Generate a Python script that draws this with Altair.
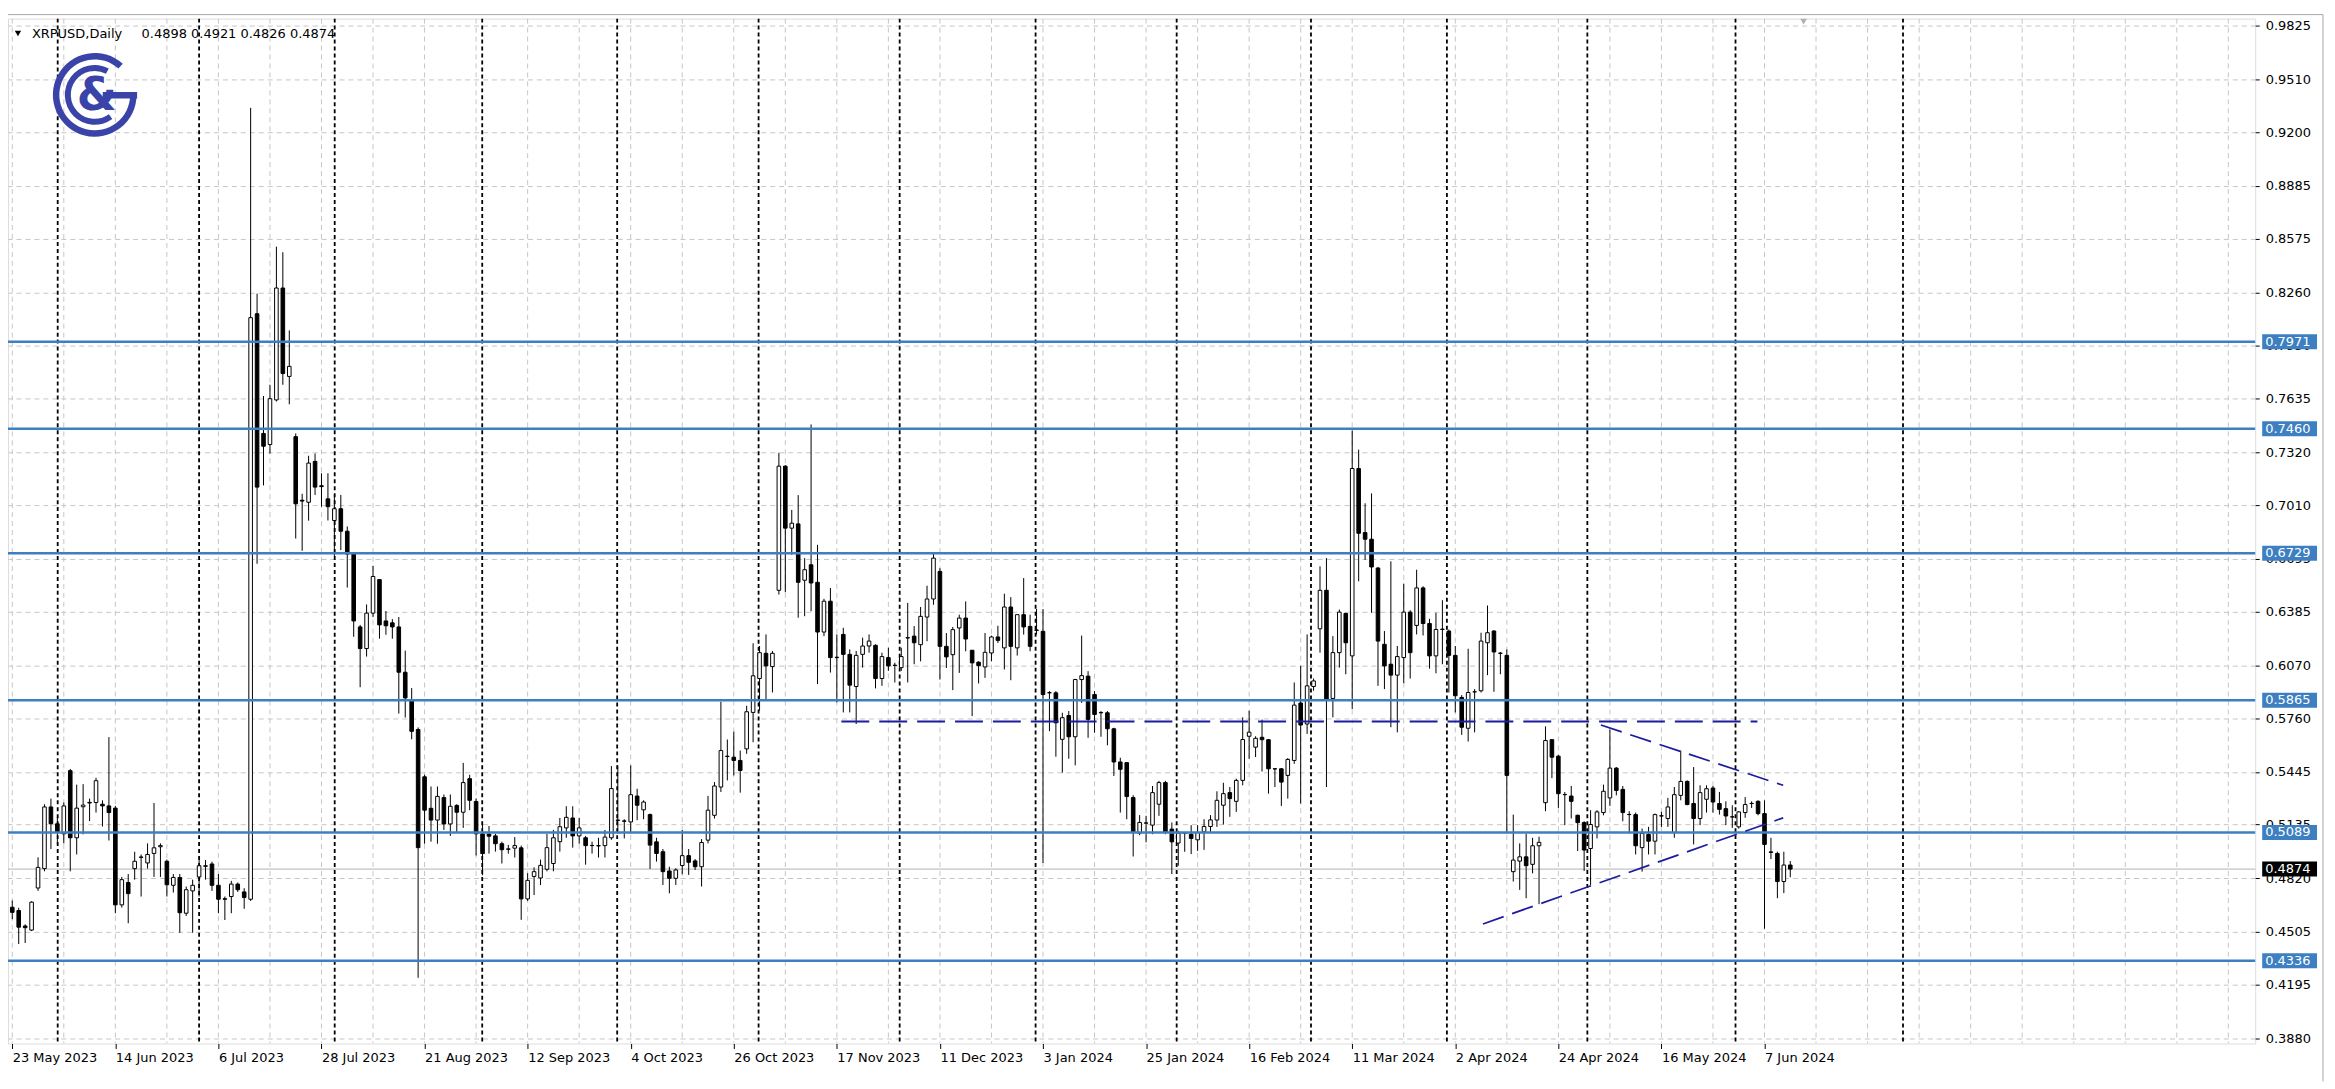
import altair as alt
import pandas as pd

# ---------------- data ----------------
OPEN = [
    .4650, .4631, .4540, .4516, .4763, .4877, .5239, .5140, .5081, .5452,
    .5058, .5240, .5262, .5265, .5255, .5245, .5232, .4664, .4795, .4877,
    .4945, .4910, .4966, .5005, .4920, .4779, .4825, .4615, .4746, .4828,
    .4890, .4904, .4779, .4700, .4713, .4786, .4740, .4697, .8135, .7432,
    .7367, .7629, .8286, .7767, .7413, .7040, .7028, .7268, .7125, .7048,
    .6921, .6990, .6858, .6724, .6296, .6169, .6377, .6574, .6331, .6320,
    .6296, .6030, .5868, .5694, .5416, .5231, .5162, .5294, .5139, .5248,
    .5208, .5405, .5271, .5081, .5080, .5069, .5023, .4990, .4997, .4999,
    .4699, .4831, .4822, .4873, .4907, .5035, .5116, .5174, .5069, .5058,
    .5013, .5010, .5012, .5058, .5162, .5157, .5151, .5303, .5222, .5194,
    .5034, .4976, .4863, .4820, .4895, .4953, .4922, .4888, .5044, .5190,
    .5356, .5535, .5531, .5512, .5580, .5794, .5993, .6141, .6063, .6511,
    .7240, .6876, .6901, .6570, .6661, .6558, .6266, .6447, .6118, .6252,
    .6135, .5946, .6135, .6184, .6188, .5993, .6116, .6070, .6057, .6231,
    .6242, .6192, .6354, .6460, .6622, .6182, .6133, .6290, .6348, .6159,
    .6089, .6061, .6143, .6237, .6173, .6413, .6173, .6368, .6299, .6278,
    .6270, .5910, .5909, .5636, .5776, .5651, .5987, .6007, .5899, .5793,
    .5792, .5698, .5503, .5499, .5294, .5085, .5145, .5132, .5255, .5382,
    .5109, .5027, .5086, .5079, .5046, .5093, .5124, .5162, .5249, .5323,
    .5272, .5395, .5654, .5590, .5648, .5634, .5463, .5463, .5424, .5512,
    .5849, .5726, .5946, .6285, .6511, .5876, .6145, .6375, .6126, .7226,
    .6850, .6811, .6642, .6194, .6077, .6013, .6116, .6383, .6305, .6525,
    .6316, .6126, .6283, .6272, .6129, .5882, .5701, .5915, .5921, .6203,
    .6272, .6142, .6129, .4859, .4921, .4946, .4902, .5011, .5264, .5634,
    .5537, .5312, .5303, .5190, .5147, .4995, .5122, .5206, .5292, .5467,
    .5342, .5195, .5194, .5000, .5077, .5038, .5187, .5171, .5089, .5307,
    .5389, .5259, .5171, .5284, .5350, .5259, .5229, .5181, .5122, .5206,
    .5260, .5272, .5200, .4975, .4966, .4801, .4898,
]
HIGH = [
    .4690, .4647, .4550, .4685, .4943, .5255, .5288, .5180, .5265, .5462,
    .5370, .5373, .5288, .5410, .5278, .5649, .5245, .4828, .4845, .4976,
    .4960, .5025, .5262, .5025, .4930, .4845, .4845, .4772, .4812, .4927,
    .4927, .4917, .4845, .4713, .4805, .4795, .4762, .9344, .8253, .7652,
    .7718, .8529, .8496, .8037, .7432, .7078, .7301, .7314, .7198, .7198,
    .7071, .7071, .6886, .6736, .6308, .6428, .6655, .6574, .6389, .6342,
    .6354, .6157, .5937, .5706, .5428, .5359, .5359, .5312, .5312, .5255,
    .5498, .5428, .5289, .5139, .5127, .5081, .5035, .5016, .5062, .5012,
    .4850, .4884, .4930, .5081, .5104, .5174, .5243, .5243, .5174, .5069,
    .5035, .5058, .5104, .5479, .5483, .5167, .5483, .5346, .5278, .5200,
    .5058, .4992, .4888, .4879, .5103, .4992, .4933, .5050, .5304, .5385,
    .5857, .5635, .5681, .5570, .5833, .6200, .6184, .6252, .6155, .7318,
    .7246, .6983, .7070, .6700, .7485, .6778, .6461, .6525, .6252, .6291,
    .6164, .6155, .6233, .6252, .6194, .6145, .6174, .6086, .6174, .6437,
    .6301, .6413, .6538, .6729, .6641, .6260, .6296, .6368, .6446, .6159,
    .6094, .6260, .6245, .6303, .6491, .6471, .6368, .6583, .6368, .6401,
    .6401, .5919, .5919, .5792, .5802, .5991, .6245, .6036, .5919, .5802,
    .5802, .5704, .5528, .5503, .5308, .5191, .5187, .5362, .5392, .5392,
    .5148, .5099, .5089, .5132, .5132, .5167, .5191, .5331, .5381, .5356,
    .5405, .5765, .5804, .5654, .5752, .5638, .5467, .5467, .5526, .5970,
    .6067, .6252, .5993, .6652, .6700, .6242, .6398, .6379, .7450, .7337,
    .7022, .7080, .6648, .6272, .6681, .6184, .6550, .6394, .6632, .6535,
    .6344, .6379, .6453, .6281, .6184, .5896, .6168, .5931, .6262, .6422,
    .6277, .6149, .6164, .5194, .5025, .5083, .5058, .5064, .5712, .5638,
    .5545, .5327, .5362, .5194, .5155, .5220, .5220, .5370, .5693, .5473,
    .5362, .5214, .5206, .5112, .5122, .5200, .5210, .5292, .5356, .5570,
    .5395, .5473, .5366, .5366, .5362, .5327, .5272, .5249, .5214, .5297,
    .5272, .5278, .5278, .5058, .4976, .4976, .4921,
]
LOW = [
    .4580, .4434, .4440, .4510, .4746, .4861, .4992, .5020, .5025, .4861,
    .4960, .5078, .5156, .5206, .5124, .5042, .4615, .4648, .4556, .4812,
    .4713, .4877, .4828, .4828, .4713, .4736, .4500, .4599, .4500, .4713,
    .4812, .4746, .4615, .4575, .4615, .4740, .4641, .4687, .6667, .7127,
    .7314, .7620, .7718, .7603, .6815, .6743, .6920, .7071, .7002, .6921,
    .6712, .6747, .6527, .6238, .5942, .6122, .6354, .6227, .6250, .6227,
    .5787, .5764, .5636, .4236, .5023, .5035, .5023, .5104, .5069, .5092,
    .5116, .5220, .4954, .4838, .4965, .4977, .4907, .4965, .4942, .4576,
    .4687, .4722, .4780, .4861, .4861, .4977, .5058, .5000, .5023, .4900,
    .4965, .4942, .4942, .5046, .5083, .5054, .5083, .5161, .5167, .4875,
    .4918, .4781, .4732, .4781, .4844, .4840, .4869, .4772, .5025, .5171,
    .5327, .5395, .5424, .5323, .5551, .5619, .5804, .5863, .5911, .6486,
    .6500, .6720, .6350, .6359, .6388, .5960, .6242, .6028, .5853, .5794,
    .5794, .5726, .6057, .6145, .5935, .5950, .6038, .5970, .6038, .5970,
    .6077, .6094, .6212, .6426, .5987, .6055, .5925, .6026, .6153, .5772,
    .5964, .5997, .6094, .6202, .6046, .5983, .6128, .6251, .6153, .6251,
    .4910, .5684, .5534, .5440, .5522, .5483, .5850, .5645, .5675, .5651,
    .5601, .5421, .5206, .5167, .4948, .5073, .5031, .5079, .5187, .5079,
    .4845, .4894, .4976, .4962, .4981, .4987, .5089, .5122, .5136, .5181,
    .5210, .5366, .5522, .5532, .5447, .5317, .5356, .5245, .5288, .5492,
    .5259, .5668, .5921, .6145, .5356, .5765, .6057, .6018, .5814, .6564,
    .6690, .6379, .5950, .5931, .5707, .5677, .5966, .5993, .6252, .6246,
    .6051, .6024, .6077, .5911, .5794, .5662, .5623, .5677, .5911, .6013,
    .5915, .6018, .5083, .4801, .4752, .4703, .4849, .4668, .5214, .5408,
    .5233, .5132, .5171, .4980, .4863, .4781, .5054, .5190, .5245, .5307,
    .5155, .5083, .4960, .4859, .4960, .4960, .5122, .5122, .5058, .5278,
    .5249, .5019, .5132, .5206, .5206, .5194, .5132, .5116, .5112, .5175,
    .5233, .5190, .4524, .4933, .4703, .4733, .4826,
]
CLOSE = [
    .4620, .4533, .4530, .4680, .4884, .5239, .5140, .5091, .5245, .5058,
    .5232, .5250, .5266, .5393, .5245, .5206, .4664, .4812, .4730, .4920,
    .4943, .4960, .4999, .5012, .4782, .4825, .4618, .4753, .4779, .4894,
    .4894, .4779, .4697, .4697, .4786, .4753, .4707, .8112, .7117, .7357,
    .7636, .8286, .7784, .7826, .7019, .7035, .7258, .7117, .7120, .7002,
    .6990, .6858, .6724, .6331, .6169, .6377, .6592, .6308, .6303, .6296,
    .6030, .5879, .5683, .5000, .5220, .5162, .5301, .5139, .5243, .5208,
    .5382, .5278, .5081, .4965, .5067, .5023, .4988, .4993, .5012, .4699,
    .4808, .4859, .4896, .5000, .5058, .5123, .5178, .5069, .5116, .5012,
    .5012, .5012, .5062, .5347, .5160, .5155, .5311, .5249, .5268, .5015,
    .4966, .4859, .4820, .4869, .4953, .4914, .4888, .5030, .5220, .5362,
    .5570, .5537, .5512, .5453, .5798, .6009, .6145, .6067, .6141, .7240,
    .6876, .6905, .6558, .6632, .6554, .6266, .6447, .6116, .6116, .6135,
    .5954, .6129, .6184, .6213, .5993, .6122, .6067, .6071, .6122, .6233,
    .6203, .6358, .6460, .6700, .6182, .6120, .6280, .6348, .6225, .6085,
    .6069, .6147, .6237, .6217, .6413, .6182, .6368, .6296, .6182, .6276,
    .5899, .5909, .5733, .5763, .5651, .5987, .6010, .5753, .5782, .5792,
    .5698, .5503, .5460, .5300, .5089, .5148, .5144, .5323, .5382, .5089,
    .5034, .5085, .5085, .5054, .5089, .5124, .5163, .5278, .5317, .5288,
    .5395, .5635, .5678, .5642, .5634, .5463, .5462, .5385, .5518, .5837,
    .5720, .5950, .5979, .6511, .5872, .6145, .6383, .6203, .7226, .6846,
    .6811, .6648, .6213, .6067, .6013, .6122, .6383, .6145, .6525, .6316,
    .6126, .6281, .6281, .6129, .5892, .5707, .5911, .5915, .6213, .6262,
    .6149, .6141, .5424, .4927, .4946, .4894, .5011, .5031, .5629, .5531,
    .5317, .5311, .5272, .5147, .4986, .5136, .5210, .5331, .5467, .5336,
    .5206, .5194, .5011, .5083, .5038, .5194, .5186, .5239, .5311, .5389,
    .5253, .5171, .5323, .5346, .5268, .5225, .5186, .5180, .5210, .5253,
    .5259, .5200, .5019, .4972, .4801, .4898, .4874,
]

DATE_LABELS = ["23 May 2023", "14 Jun 2023", "6 Jul 2023", "28 Jul 2023",
               "21 Aug 2023", "12 Sep 2023", "4 Oct 2023", "26 Oct 2023",
               "17 Nov 2023", "11 Dec 2023", "3 Jan 2024", "25 Jan 2024",
               "16 Feb 2024", "11 Mar 2024", "2 Apr 2024", "24 Apr 2024",
               "16 May 2024", "7 Jun 2024"]
LABEL_BARS = list(range(0, 273, 16))
GRID_BARS = list(range(0, 345, 8))
MONTH_SEPARATORS = [7.05, 29.0, 50.05, 72.95, 93.9, 115.85, 137.75, 158.85,
                    180.75, 201.6, 222.7, 244.5, 267.5, 293.5]
Y_TICKS = [0.9825, 0.9510, 0.9200, 0.8885, 0.8575, 0.8260, 0.7950, 0.7635,
           0.7320, 0.7010, 0.6695, 0.6385, 0.6070, 0.5760, 0.5445, 0.5135,
           0.4820, 0.4505, 0.4195, 0.3880]
LEVELS = [0.7971, 0.7460, 0.6729, 0.5865, 0.5089, 0.4336]
LAST_PRICE = [0.4874]
RES_X = [128.7, 270.9]
RES_Y = [0.5740, 0.5740]
UPPER_X = [246.6, 274.9]
UPPER_Y = [0.5720, 0.5366]
LOWER_X = [228.3, 274.9]
LOWER_Y = [0.4552, 0.5175]
TITLE_SYMBOL = "XRPUSD,Daily"
TITLE_OHLC = "0.4898 0.4921 0.4826 0.4874"

# ---------------- styling ----------------
FONT = "DejaVu Sans"
BLUE = "#3d7fc1"
NAVY = "#1c1c9e"
LOGO = "#3a44a8"
GRID = "#c6c6c6"
W, H = 2254, 1028

xscale = alt.Scale(domain=[0.11, 347.4], nice=False, zero=False)
yscale = alt.Scale(domain=[0.3850, 0.9868], nice=False, zero=False)

label_js = "[" + ",".join("'%s'" % s for s in DATE_LABELS) + "]"
xaxis = alt.Axis(values=LABEL_BARS, labelExpr=label_js + "[round(datum.value/16)]",
                 title=None, grid=False, domain=False, ticks=True, tickSize=5,
                 tickColor="black", labelAlign="left", labelBaseline="top",
                 labelPadding=3, labelFont=FONT, labelFontSize=13,
                 labelColor="black", labelOverlap=False, labelFlush=False,
                 labelBound=False)
yaxis = alt.Axis(orient="right", values=Y_TICKS, format=".4f", title=None,
                 grid=True, gridColor=GRID, gridDash=[5, 4], gridWidth=1,
                 domain=False, tickSize=4, tickColor="black", labelPadding=6,
                 labelFont=FONT, labelFontSize=13, labelColor="black",
                 labelOverlap=False, labelFlush=False, labelBound=False)


def X(f):
    return alt.X(f, type="quantitative", scale=xscale, axis=xaxis)


def Y(f):
    return alt.Y(f, type="quantitative", scale=yscale, axis=yaxis)


candles = pd.DataFrame({"bar": list(range(len(OPEN))), "open": OPEN,
                        "high": HIGH, "low": LOW, "close": CLOSE})
base = alt.Chart(candles)

vgrid = alt.Chart(pd.DataFrame({"bar": GRID_BARS})).mark_rule(
    color=GRID, strokeDash=[5, 4], strokeWidth=1, clip=True).encode(x=X("bar"))

seps = alt.Chart(pd.DataFrame({"bar": MONTH_SEPARATORS})).mark_rule(
    color="black", strokeDash=[4, 3], strokeWidth=1.8, clip=True).encode(x=X("bar"))

lastline = alt.Chart(pd.DataFrame({"level": LAST_PRICE})).mark_rule(
    color="#b4b4b4", strokeWidth=1).encode(y=Y("level"))

wicks = base.mark_rule(color="black", strokeWidth=1, clip=True).encode(
    x=X("bar"), y=Y("low"), y2="high")

bodies = base.mark_bar(size=3.6, stroke="black", strokeWidth=1, clip=True).encode(
    x=X("bar"), y=Y("open"), y2="close",
    fill=alt.condition("datum.close >= datum.open", alt.value("white"), alt.value("black")))

levels_df = pd.DataFrame({"level": LEVELS, "label": ["%.4f" % v for v in LEVELS]})
levels = alt.Chart(levels_df).mark_rule(color=BLUE, strokeWidth=2.5).encode(y=Y("level"))

res = alt.Chart(pd.DataFrame({"bar": RES_X, "price": RES_Y})).mark_line(
    color=NAVY, strokeDash=[28, 10], strokeWidth=2).encode(x=X("bar"), y=Y("price"))
upper = alt.Chart(pd.DataFrame({"bar": UPPER_X, "price": UPPER_Y})).mark_line(
    color=NAVY, strokeDash=[22, 9], strokeWidth=1.7).encode(x=X("bar"), y=Y("price"))
lower = alt.Chart(pd.DataFrame({"bar": LOWER_X, "price": LOWER_Y})).mark_line(
    color=NAVY, strokeDash=[22, 9], strokeWidth=1.7).encode(x=X("bar"), y=Y("price"))

boxes = alt.Chart(levels_df).transform_calculate(
    lo="datum.level - 0.0044", hi="datum.level + 0.0044").mark_rect(color=BLUE).encode(
    x=alt.value(W + 7), x2=alt.value(W + 62), y=Y("lo"), y2="hi")
box_txt = alt.Chart(levels_df).mark_text(
    align="left", baseline="middle", font=FONT, fontSize=13, color="white").encode(
    x=alt.value(W + 10), y=Y("level"), text="label:N")

last_df = pd.DataFrame({"level": LAST_PRICE, "label": ["%.4f" % v for v in LAST_PRICE]})
last_box = alt.Chart(last_df).transform_calculate(
    lo="datum.level - 0.0044", hi="datum.level + 0.0044").mark_rect(color="black").encode(
    x=alt.value(W + 7), x2=alt.value(W + 62), y=Y("lo"), y2="hi")
last_txt = alt.Chart(last_df).mark_text(
    align="left", baseline="middle", font=FONT, fontSize=13, color="white").encode(
    x=alt.value(W + 10), y=Y("level"), text="label:N")

one = pd.DataFrame({"a": [0]})
tri = alt.Chart(one).mark_point(shape="triangle-down", filled=True, size=40,
                                color="black", opacity=1).encode(
    x=alt.value(10), y=alt.value(15))
t1 = alt.Chart(pd.DataFrame({"t": [TITLE_SYMBOL]})).mark_text(
    align="left", baseline="middle", font=FONT, fontSize=13, color="black").encode(
    x=alt.value(24), y=alt.value(15), text="t:N")
t2 = alt.Chart(pd.DataFrame({"t": [TITLE_OHLC]})).mark_text(
    align="left", baseline="middle", font=FONT, fontSize=13, color="black").encode(
    x=alt.value(134), y=alt.value(15), text="t:N")

ring_outer = alt.Chart(one).mark_arc(theta=1.5708, theta2=7.0162, radius=42,
                                     radius2=35.5, color=LOGO).encode(
    x=alt.value(87), y=alt.value(76.5))
ring_inner = alt.Chart(one).mark_arc(theta=2.513, theta2=6.772, radius=30,
                                     radius2=24, color=LOGO).encode(
    x=alt.value(87), y=alt.value(76.5))
g_bar = alt.Chart(one).mark_rule(color=LOGO, strokeWidth=6.5).encode(
    x=alt.value(95), x2=alt.value(129.5), y=alt.value(77))
amp = alt.Chart(pd.DataFrame({"t": ["&"]})).mark_text(
    align="center", baseline="middle", font=FONT, fontSize=46, fontWeight="bold",
    color=LOGO).encode(x=alt.value(89), y=alt.value(78), text="t:N")

shift_mark = alt.Chart(one).mark_point(shape="triangle-down", filled=True, size=45,
                                       color="#b0b0b0", opacity=1).encode(
    x=alt.value(1801), y=alt.value(3))
frame_top = alt.Chart(one).mark_rule(color="#a8a8a8", strokeWidth=1).encode(
    x=alt.value(-8), x2=alt.value(W + 68), y=alt.value(-4))
frame_right = alt.Chart(one).mark_rule(color="#a8a8a8", strokeWidth=1).encode(
    x=alt.value(W + 68), y=alt.value(-4), y2=alt.value(H + 38))

chart = alt.layer(
    vgrid, seps, lastline, wicks, bodies, levels, res, upper, lower,
    boxes, box_txt, last_box, last_txt, tri, t1, t2,
    ring_outer, ring_inner, g_bar, amp, shift_mark, frame_top, frame_right,
).properties(
    width=W, height=H,
    padding={"left": 0, "top": 9, "right": 72, "bottom": 40},
    autosize=alt.AutoSizeParams(type="none"),
).configure_view(stroke="black", strokeWidth=1.5).configure(background="white")

chart.save("out.html", embed_options={"renderer": "svg", "actions": False})
